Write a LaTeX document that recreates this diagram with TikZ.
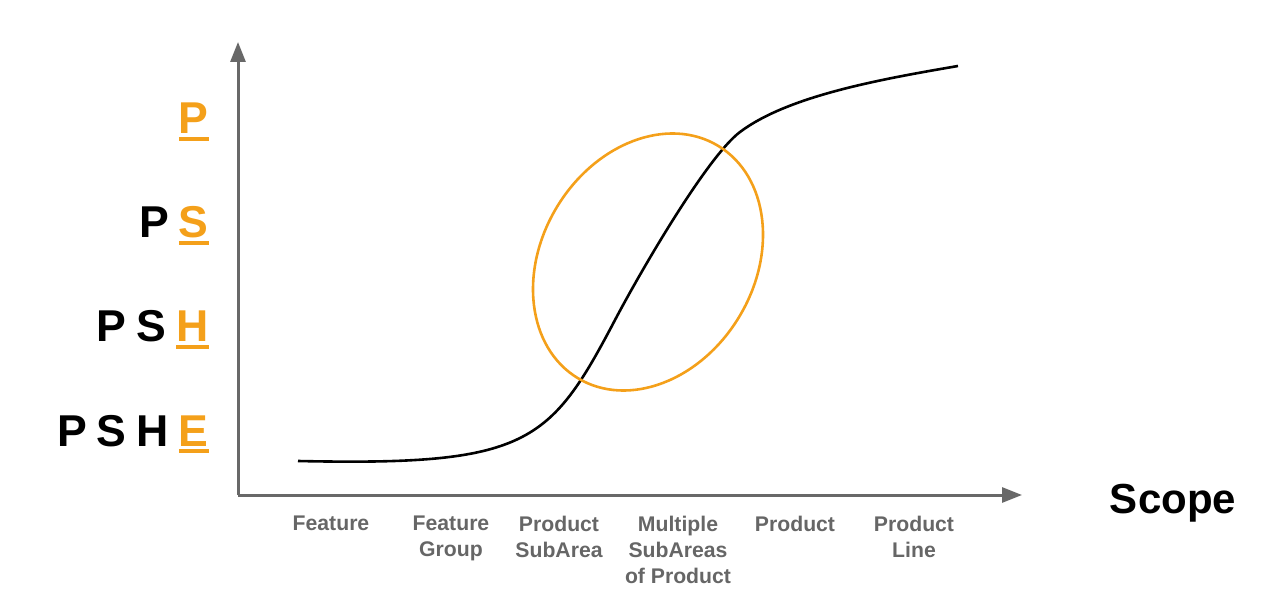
\documentclass[tikz,border=0pt]{standalone}
\usepackage{fontspec}
\setmainfont{Liberation Sans}
\usetikzlibrary{arrows.meta}
\definecolor{axisgray}{RGB}{104,104,104}
\definecolor{labelgray}{RGB}{102,102,102}
\definecolor{accent}{RGB}{244,160,26}
\newcommand{\accentul}[1]{\setbox0\hbox{#1}\rlap{\color{accent}\rule[-3.6pt]{\wd0}{2pt}}{\color{accent}\box0}}
\newcommand{\lgap}{\hspace{0.225em}}
\begin{document}
\begin{tikzpicture}[x=0.5pt,y=-0.5pt,
  axis/.style={draw=axisgray,line width=1.5pt,-{Triangle[length=10pt,width=7.5pt]}},
  scopelabel/.style={font=\fontsize{10.6pt}{13pt}\selectfont\bfseries,text=labelgray,align=center,anchor=north,inner sep=0pt},
  levellabel/.style={font=\fontsize{22.3pt}{26pt}\selectfont\bfseries,anchor=base east,inner sep=0pt},
  curve/.style={draw=black,line width=1.3pt},
  focus/.style={draw=accent,line width=1.3pt}]
\useasboundingbox (0,0) rectangle (1275,593);
\coordinate (origin) at (238,495);
\coordinate (ytip) at (238,42);
\coordinate (xtip) at (1022,495);
\draw[axis] (origin) -- (ytip);
\draw[axis] (origin) -- (xtip);
% level labels
\node[levellabel] (l1) at (209,134) {\accentul{P}};
\node[levellabel] (l2) at (209,238) {P\lgap\accentul{S}};
\node[levellabel] (l3) at (209,342) {P\lgap S\lgap\accentul{H}};
\node[levellabel] (l4) at (209,446) {P\lgap S\lgap H\lgap\accentul{E}};
% scope labels
\node[scopelabel] (s1) at (331,516) {Feature};
\node[scopelabel] (s2) at (451,516) {Feature\\Group};
\node[scopelabel] (s3) at (559,516) {Product\\SubArea};
\node[scopelabel] (s4) at (678,516) {Multiple\\SubAreas\\of Product};
\node[scopelabel] (s5) at (795,516) {Product};
\node[scopelabel] (s6) at (914,516) {Product\\Line};
\node[font=\fontsize{21pt}{25pt}\selectfont\bfseries,anchor=base,inner sep=0pt] (scope) at (1173,513) {Scope};
% S-curve
\coordinate (c0) at (298,461);
\coordinate (c1) at (615,320);
\coordinate (c2) at (740,132);
\coordinate (c3) at (958,66);
\draw[curve] (c0) .. controls (528,466) and (549.8,443.9) .. (c1)
  .. controls (643,266.9) and (708,156) .. (c2)
  .. controls (788,96) and (879,79.5) .. (c3);
% focus ellipse
\draw[focus,rotate around={58.8:(648,262)}] (648,262) ellipse [x radius=67.85pt, y radius=53.2pt];
\end{tikzpicture}
\end{document}
